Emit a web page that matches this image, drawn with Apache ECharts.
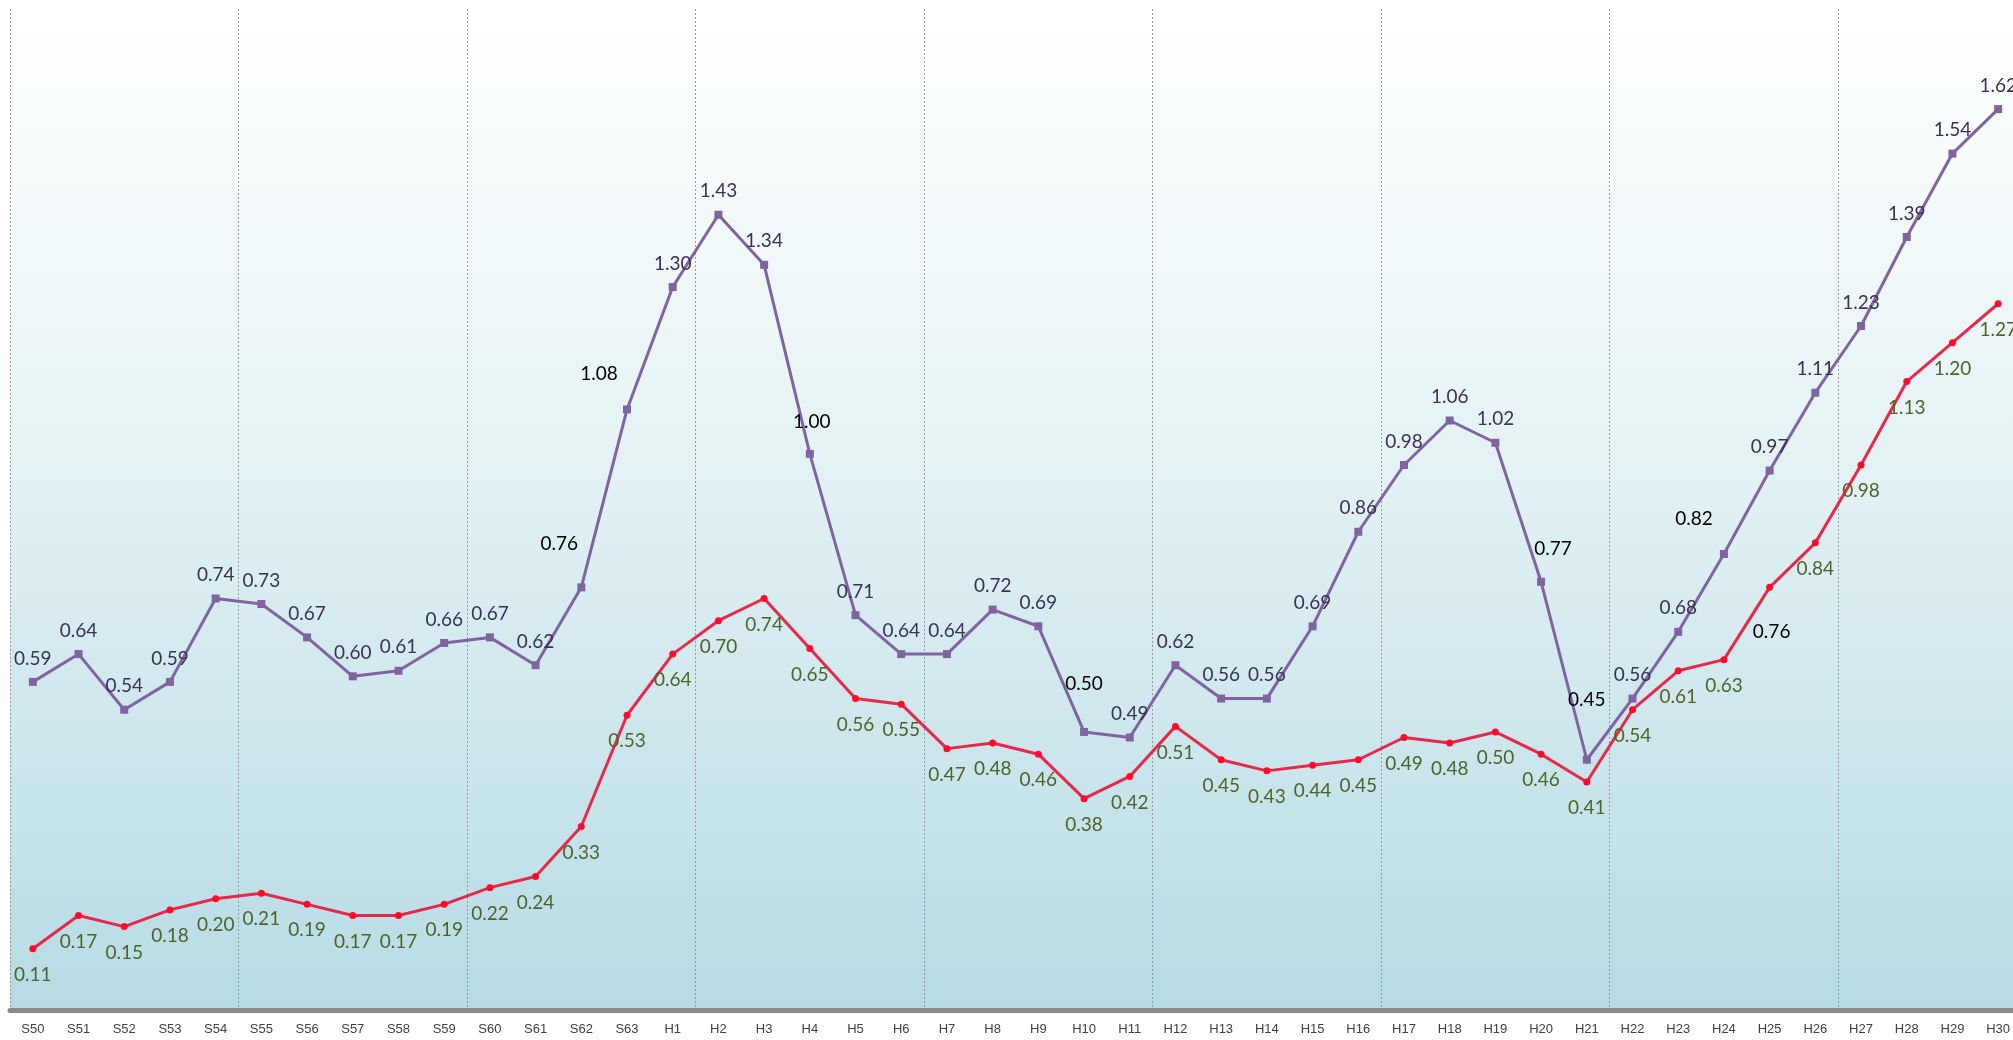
<!DOCTYPE html>
<html>
<head>
<meta charset="utf-8">
<script src="https://cdn.jsdelivr.net/npm/echarts@6/dist/echarts.min.js"></script>
<style>
  html, body { margin: 0; padding: 0; background: #fff; }
  #chart { width: 2013px; height: 1040px; }
</style>
</head>
<body>
<div id="chart"></div>
<script>
const categories = [
  'S50','S51','S52','S53','S54','S55','S56','S57','S58','S59','S60','S61','S62','S63',
  'H1','H2','H3','H4','H5','H6','H7','H8','H9','H10','H11','H12','H13','H14','H15','H16',
  'H17','H18','H19','H20','H21','H22','H23','H24','H25','H26','H27','H28','H29','H30'
];
const upperValues = [
  0.59,0.64,0.54,0.59,0.74,0.73,0.67,0.60,0.61,0.66,0.67,0.62,0.76,1.08,
  1.30,1.43,1.34,1.00,0.71,0.64,0.64,0.72,0.69,0.50,0.49,0.62,0.56,0.56,0.69,0.86,
  0.98,1.06,1.02,0.77,0.45,0.56,0.68,0.82,0.97,1.11,1.23,1.39,1.54,1.62
];
const lowerValues = [
  0.11,0.17,0.15,0.18,0.20,0.21,0.19,0.17,0.17,0.19,0.22,0.24,0.33,0.53,
  0.64,0.70,0.74,0.65,0.56,0.55,0.47,0.48,0.46,0.38,0.42,0.51,0.45,0.43,0.44,0.45,
  0.49,0.48,0.50,0.46,0.41,0.54,0.61,0.63,0.76,0.84,0.98,1.13,1.20,1.27
];

// labels that were moved by hand in the original (black text)
const upperMoved = { 12: [-22, -20], 13: [-28, -12], 17: [2, -9], 23: [0, -25], 33: [12, -9], 34: [0, -36], 37: [-30, -12] };
const lowerMoved = { 38: [2, 19] };

function withLabels(values, moved) {
  return values.map((v, i) => {
    if (!moved[i]) return v;
    return { value: v, label: { offset: moved[i], color: '#000000' } };
  });
}

const chart = echarts.init(document.getElementById('chart'));

const option = {
  animation: false,
  backgroundColor: '#ffffff',
  grid: {
    show: true,
    left: 10,
    top: 9,
    bottom: 30,
    width: 2011,
    outerBoundsMode: 'none',
    containLabel: false,
    borderWidth: 0,
    backgroundColor: {
      type: 'linear', x: 0, y: 0, x2: 0, y2: 1,
      colorStops: [
        { offset: 0, color: '#ffffff' },
        { offset: 0.45, color: '#e4f2f4' },
        { offset: 1, color: '#b6dbe5' }
      ]
    }
  },
  xAxis: {
    type: 'category',
    data: categories,
    boundaryGap: true,
    axisLine: { lineStyle: { color: '#8c8c8c', width: 5 } },
    axisTick: { show: false },
    axisLabel: {
      interval: 0,
      margin: 13,
      fontSize: 13,
      fontFamily: 'Liberation Sans',
      color: '#404040'
    },
    splitLine: {
      show: true,
      interval: (index) => index % 5 === 0,
      lineStyle: { color: '#9a9a9a', width: 1, type: [2, 2] }
    }
  },
  yAxis: {
    type: 'value',
    min: 0,
    max: 1.8,
    show: false,
    splitLine: { show: false }
  },
  series: [
    {
      name: 'upper',
      type: 'line',
      data: withLabels(upperValues, upperMoved),
      symbol: 'rect',
      symbolSize: 8,
      lineStyle: { color: '#8064a2', width: 3 },
      itemStyle: { color: '#8064a2' },
      label: {
        show: true,
        position: 'top',
        distance: 10,
        fontSize: 19,
        fontFamily: 'Lato',
        color: '#3b3154',
        formatter: p => p.value.toFixed(2)
      },
      z: 3
    },
    {
      name: 'lower',
      type: 'line',
      data: withLabels(lowerValues, lowerMoved),
      symbol: 'circle',
      symbolSize: 7,
      lineStyle: { color: '#e6284a', width: 3 },
      itemStyle: { color: '#ff0a2a' },
      label: {
        show: true,
        position: 'bottom',
        distance: 13,
        fontSize: 19,
        fontFamily: 'Lato',
        color: '#4f6228',
        formatter: p => p.value.toFixed(2)
      },
      z: 2
    }
  ]
};

chart.setOption(option);
</script>
</body>
</html>
